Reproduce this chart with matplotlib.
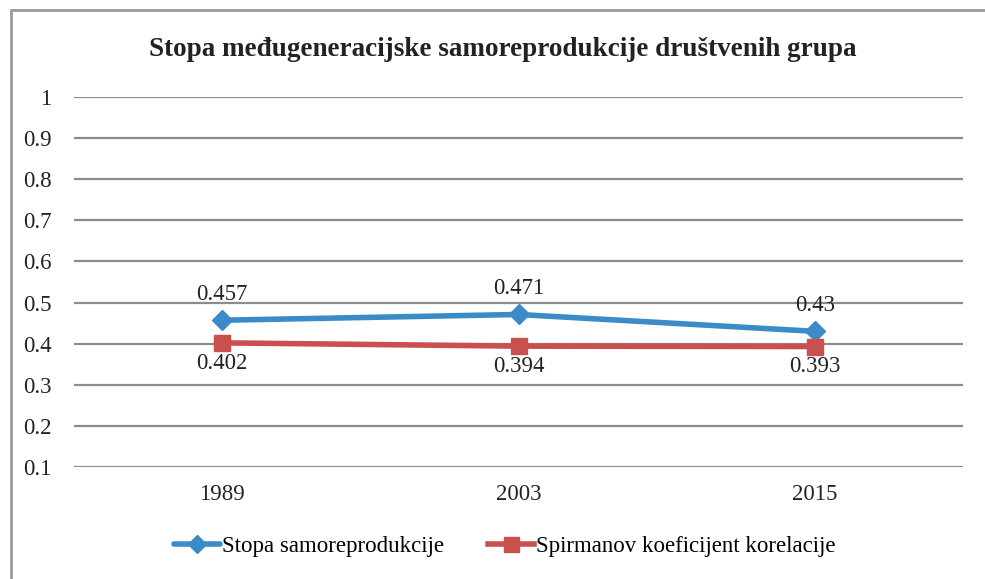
import matplotlib.pyplot as plt
from matplotlib.patches import Rectangle

years = ["1989", "2003", "2015"]
stopa = [0.457, 0.471, 0.43]
spirman = [0.402, 0.394, 0.393]
y_ticks = [0.1, 0.2, 0.3, 0.4, 0.5, 0.6, 0.7, 0.8, 0.9, 1]
y_tick_labels = ["0.1", "0.2", "0.3", "0.4", "0.5", "0.6", "0.7", "0.8", "0.9", "1"]

BLUE = "#3b8bc8"
RED = "#c9504f"
GRID = "#8c8c8c"

plt.rcParams["font.family"] = ["Liberation Serif", "DejaVu Serif"]


def main():
    fig = plt.figure(figsize=(9.85, 5.79), dpi=100)
    ax = fig.add_axes([74 / 985, 1 - 467 / 579, 889 / 985, 370 / 579])

    # outer chart frame (right and bottom sides are cut off in the original)
    fig.add_artist(Rectangle((11 / 985, -0.1), 1.2, (579 - 10) / 579 + 0.1,
                             transform=fig.transFigure, fill=False,
                             edgecolor="#9a9a9a", linewidth=2))

    x = list(range(len(years)))
    ax.plot(x, stopa, color=BLUE, linewidth=4, marker="D", markersize=10,
            label="Stopa samoreprodukcije", solid_capstyle="round")
    ax.plot(x, spirman, color=RED, linewidth=4, marker="s", markersize=12,
            label="Spirmanov koeficijent korelacije")

    for xi, v in zip(x, stopa):
        ax.annotate(f"{v:g}", (xi, v), xytext=(0, 11), textcoords="offset points",
                    ha="center", va="bottom", fontsize=16.5, color="#222222")
    for xi, v in zip(x, spirman):
        ax.annotate(f"{v:g}", (xi, v), xytext=(0, -7), textcoords="offset points",
                    ha="center", va="top", fontsize=16.5, color="#222222")

    ax.set_xlim(-0.5, 2.5)
    ax.set_ylim(0.1, 1)
    ax.set_yticks(y_ticks)
    ax.set_yticklabels(y_tick_labels)
    ax.set_xticks(x)
    ax.set_xticklabels(years)
    ax.tick_params(axis="both", length=0, labelsize=16.5, colors="#222222")
    ax.tick_params(axis="y", pad=16)
    ax.tick_params(axis="x", pad=12)
    ax.yaxis.grid(True, color=GRID, linewidth=1.6)
    ax.set_axisbelow(True)
    for side in ax.spines.values():
        side.set_visible(False)

    fig.text(503 / 985, 1 - 50 / 579, "Stopa međugeneracijske samoreprodukcije društvenih grupa",
             ha="center", va="center", fontsize=19.5, fontweight="bold", color="#222222")

    fig.legend(loc="center", bbox_to_anchor=(505 / 985, 1 - 546 / 579), ncol=2,
               frameon=False, fontsize=16.5, handlelength=2.0, handletextpad=0.1,
               columnspacing=1.9, markerscale=0.9)

    fig.savefig("out.png", dpi=100)
    plt.close(fig)


if __name__ == "__main__":
    main()
